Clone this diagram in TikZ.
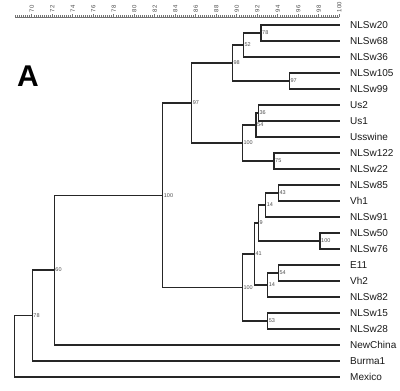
\documentclass[tikz,border=0pt]{standalone}
\usepackage{fontspec}
\setmainfont{Liberation Sans}
\begin{document}
\begin{tikzpicture}[x=1pt,y=-1pt,
  br/.style={line width=1.25pt, draw=black!85, line cap=rect},
  leaf/.style={anchor=west, inner sep=0pt, font=\fontsize{10}{12}\selectfont, text=black!90},
  boot/.style={anchor=west, inner sep=0pt, xshift=1pt, font=\fontsize{5.5}{5.5}\selectfont, text=black!70},
  axl/.style={draw=black!55, line width=0.5pt},
  axlab/.style={rotate=90, anchor=west, inner sep=0pt, font=\fontsize{6}{6}\selectfont, text=black!70}]
\useasboundingbox (0,0) rectangle (400,391);
% scale axis
\coordinate (axL) at (15,17);
\coordinate (axR) at (339.2,17);
\draw[axl] (axL) -- (axR);
\foreach \k in {-8,...,150}{
  \draw[axl] (31.7+2.05*\k,17) -- ++(0,-2);
}
\foreach \v [count=\j from 0] in {70,72,...,100}{
  \draw[axl] (31.7+20.5*\j,17) -- ++(0,-3.5);
  \node[axlab] (ax\v) at (31.7+20.5*\j,12.5) {\v};
}
% panel letter
\node[font=\fontsize{30}{30}\selectfont\bfseries] (A) at (28,76) {A};
% leaves
\foreach \n [count=\i from 0] in {NLSw20,NLSw68,NLSw36,NLSw105,NLSw99,Us2,Us1,Usswine,NLSw122,NLSw22,NLSw85,Vh1,NLSw91,NLSw50,NLSw76,E11,Vh2,NLSw82,NLSw15,NLSw28,NewChina,Burma1,Mexico}{
  \coordinate (l\n) at (339.2,25+16*\i);
  \node[leaf] (t\n) at (350,25+16*\i) {\n};
}
% internal nodes
\coordinate (n78a) at (261,33);
\coordinate (n52) at (243.3,45);
\coordinate (n97a) at (289.3,81);
\coordinate (n98) at (232.3,63);
\coordinate (n36) at (258.3,113);
\coordinate (n54a) at (256,125);
\coordinate (n75) at (274,161);
\coordinate (n100a) at (242.3,143);
\coordinate (n97b) at (191.7,103);
\coordinate (n43) at (278.3,193);
\coordinate (n14a) at (265.7,205);
\coordinate (n100b) at (320,241);
\coordinate (n9) at (258.3,223);
\coordinate (n54b) at (278.3,273);
\coordinate (n14b) at (267.7,285);
\coordinate (n41) at (254.3,254);
\coordinate (n53) at (267.7,321);
\coordinate (n100c) at (242.3,287.5);
\coordinate (n100d) at (162.7,195.25);
\coordinate (n60) at (54.3,270.1);
\coordinate (n78b) at (32.3,315.5);
\coordinate (root) at (14.3,346.25);
% branches
\draw[br] (n78a) |- (lNLSw20); \draw[br] (n78a) |- (lNLSw68);
\draw[br] (n52) |- (n78a); \draw[br] (n52) |- (lNLSw36);
\draw[br] (n97a) |- (lNLSw105); \draw[br] (n97a) |- (lNLSw99);
\draw[br] (n98) |- (n52); \draw[br] (n98) |- (n97a);
\draw[br] (n36) |- (lUs2); \draw[br] (n36) |- (lUs1);
\draw[br] (n54a) |- (n36); \draw[br] (n54a) |- (lUsswine);
\draw[br] (n75) |- (lNLSw122); \draw[br] (n75) |- (lNLSw22);
\draw[br] (n100a) |- (n54a); \draw[br] (n100a) |- (n75);
\draw[br] (n97b) |- (n98); \draw[br] (n97b) |- (n100a);
\draw[br] (n43) |- (lNLSw85); \draw[br] (n43) |- (lVh1);
\draw[br] (n14a) |- (n43); \draw[br] (n14a) |- (lNLSw91);
\draw[br] (n100b) |- (lNLSw50); \draw[br] (n100b) |- (lNLSw76);
\draw[br] (n9) |- (n14a); \draw[br] (n9) |- (n100b);
\draw[br] (n54b) |- (lE11); \draw[br] (n54b) |- (lVh2);
\draw[br] (n14b) |- (n54b); \draw[br] (n14b) |- (lNLSw82);
\draw[br] (n41) |- (n9); \draw[br] (n41) |- (n14b);
\draw[br] (n53) |- (lNLSw15); \draw[br] (n53) |- (lNLSw28);
\draw[br] (n100c) |- (n41); \draw[br] (n100c) |- (n53);
\draw[br] (n100d) |- (n97b); \draw[br] (n100d) |- (n100c);
\draw[br] (n60) |- (n100d); \draw[br] (n60) |- (lNewChina);
\draw[br] (n78b) |- (n60); \draw[br] (n78b) |- (lBurma1);
\draw[br] (root) |- (n78b); \draw[br] (root) |- (lMexico);
% bootstrap values
\node[boot] (b78a) at (n78a) {78};
\node[boot] (b52) at (n52) {52};
\node[boot] (b97a) at (n97a) {97};
\node[boot] (b98) at (n98) {98};
\node[boot] (b36) at (n36) {36};
\node[boot] (b54a) at (n54a) {54};
\node[boot] (b75) at (n75) {75};
\node[boot] (b100a) at (n100a) {100};
\node[boot] (b97b) at (n97b) {97};
\node[boot] (b43) at (n43) {43};
\node[boot] (b14a) at (n14a) {14};
\node[boot] (b100b) at (n100b) {100};
\node[boot] (b9) at (n9) {9};
\node[boot] (b54b) at (n54b) {54};
\node[boot] (b14b) at (n14b) {14};
\node[boot] (b41) at (n41) {41};
\node[boot] (b53) at (n53) {53};
\node[boot] (b100c) at (n100c) {100};
\node[boot] (b100d) at (n100d) {100};
\node[boot] (b60) at (n60) {60};
\node[boot] (b78b) at (n78b) {78};
\end{tikzpicture}
\end{document}
